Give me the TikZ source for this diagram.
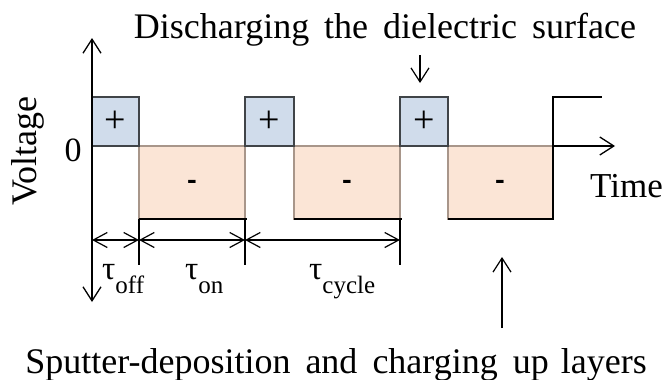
\documentclass[tikz,border=0pt]{standalone}
\usepackage{fontspec}
\setmainfont{Liberation Serif}
\newfontfamily\carl{Carlito}
\usetikzlibrary{arrows.meta}
\definecolor{posfill}{HTML}{D0DCEB}
\definecolor{posline}{HTML}{404448}
\definecolor{negfill}{HTML}{FBE5D6}
\definecolor{negline}{HTML}{A8968A}
\newcommand{\mybigfont}{\fontsize{36}{40}\selectfont}
\newcommand{\mytau}[1]{{\fontsize{33}{34}\selectfont τ}\raisebox{-14pt}{\fontsize{25}{26}\selectfont #1}}
\begin{document}
\begin{tikzpicture}[x=1pt,y=-1pt,
  ln/.style={line width=1.3pt, draw=black},
  tipend/.style={-{Straight Barb[length=14pt,width=18pt]}},
  dim/.style={line width=1.2pt,{Straight Barb[length=14pt,width=15pt]}-{Straight Barb[length=14pt,width=15pt]}},
  posbox/.style={fill=posfill, draw=posline, line width=1.3pt},
  negbox/.style={fill=negfill, draw=negline, line width=1.3pt},
  txt/.style={font=\mybigfont, inner sep=0pt}
]
\useasboundingbox (0,0) rectangle (665,380);

% coordinates
\coordinate (o) at (92,146);
\coordinate (ytop) at (92,38);
\coordinate (ybot) at (92,302);
\coordinate (tend) at (615,146);

% time axis
\draw[ln, tipend] (o) -- (tend);

% waveform
\draw[ln] (92,97) -- (139,97) -- (139,219) -- (245,219) -- (245,97) -- (294,97) -- (294,219) -- (400,219) -- (400,97) -- (448,97) -- (448,219) -- (553,219) -- (553,97) -- (602,97);

% negative boxes
\draw[negbox] (139,146) rectangle (245,219);
\draw[negbox] (294,146) rectangle (400,219);
\draw[negbox] (448,146) rectangle (553,219);
\draw[ln] (139,219) -- (247,219);
\draw[ln] (294,219) -- (402,219);
\draw[ln] (448,219) -- (553,219) -- (553,97) -- (602,97);

% positive boxes
\draw[posbox] (92,97) rectangle (139,146);
\draw[posbox] (245,97) rectangle (294,146);
\draw[posbox] (400,97) rectangle (448,146);

\node[font=\fontsize{38}{40}\selectfont] (p1) at (115.5,122) {+};
\node[font=\fontsize{38}{40}\selectfont] (p2) at (269.5,122) {+};
\node[font=\fontsize{38}{40}\selectfont] (p3) at (424,122) {+};
\node[font=\carl\bfseries\fontsize{30}{32}\selectfont] (m1) at (192,185) {-};
\node[font=\carl\bfseries\fontsize{30}{32}\selectfont] (m2) at (347,185) {-};
\node[font=\carl\bfseries\fontsize{30}{32}\selectfont] (m3) at (500,185) {-};

% vertical axis
\draw[ln, tipend] (o) -- (ytop);
\draw[ln, tipend] (o) -- (ybot);

% dimension ticks
\coordinate (d0) at (92,240);
\coordinate (d1) at (139,240);
\coordinate (d2) at (245,240);
\coordinate (d3) at (400,240);
\draw[ln] (139,219) -- (139,265);
\draw[ln] (245,219) -- (245,265);
\draw[ln] (400,219) -- (400,265);
\draw[dim] (d0) -- (d1);
\draw[dim] (d1) -- (d2);
\draw[dim] (d2) -- (d3);

% labels
\node[anchor=base west, inner sep=0pt] (toff) at (102,279) {\mytau{off}};
\node[anchor=base west, inner sep=0pt] (ton) at (185,279) {\mytau{on}};
\node[anchor=base west, inner sep=0pt] (tcyc) at (309,279) {\mytau{cycle}};

\node[txt, anchor=base, font=\fontsize{34}{36}\selectfont] (zero) at (73,161) {0};
\node[txt, anchor=base, rotate=90] (volt) at (37,151) {Voltage};
\node[txt, anchor=base west, font=\fontsize{35}{38}\selectfont] (time) at (590,197) {Time};

\node[txt, anchor=base] (title) at (385,38) {Discharging\hspace{15pt}the\hspace{15pt}dielectric\hspace{15pt}surface};
\node[txt, anchor=base] (bottom) at (336,373) {Sputter-deposition\hspace{15pt}and\hspace{15pt}charging\hspace{15pt}up\hspace{12pt}layers};

% pointer arrows
\coordinate (a1s) at (420,55);
\coordinate (a1e) at (420,83);
\draw[line width=1.2pt, tipend] (a1s) -- (a1e);
\coordinate (a2s) at (502,328);
\coordinate (a2e) at (502,257);
\draw[line width=1.2pt, tipend] (a2s) -- (a2e);
\end{tikzpicture}
\end{document}
